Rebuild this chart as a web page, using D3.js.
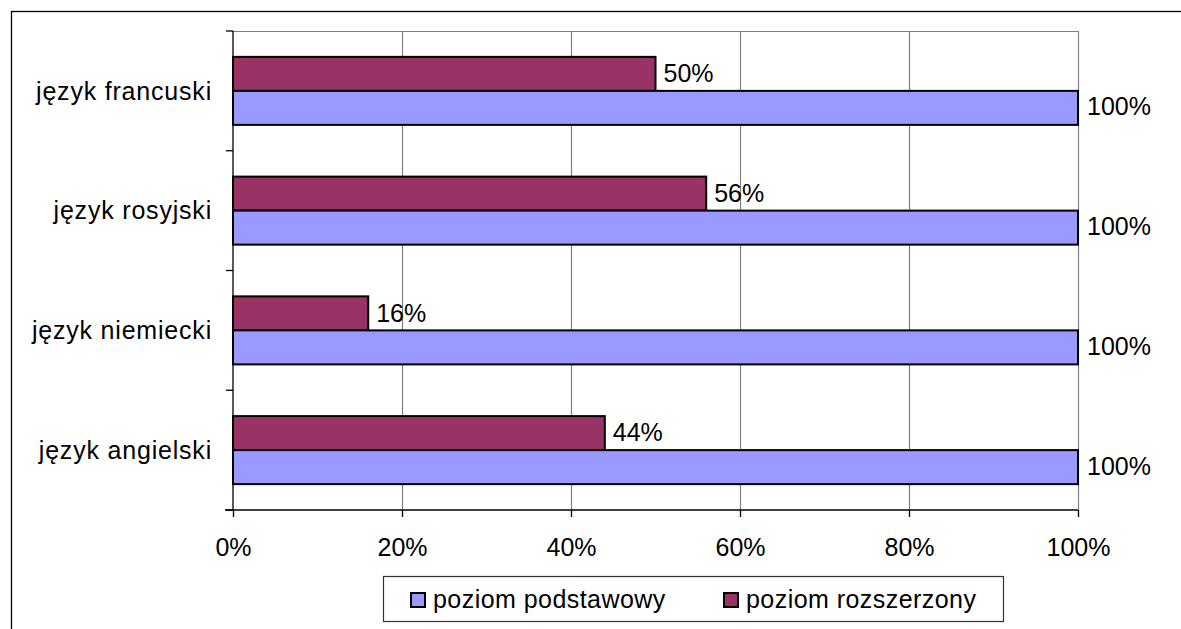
<!DOCTYPE html>
<html><head><meta charset="utf-8">
<script src="https://cdn.jsdelivr.net/npm/d3@7/dist/d3.min.js"></script>
<style>
html,body{margin:0;padding:0;background:#fff;}
svg{display:block;font-family:"Liberation Sans",Arial,sans-serif;}
</style></head>
<body>
<svg id="c" width="1181" height="629"></svg>
<script>
const categories = ["język francuski","język rosyjski","język niemiecki","język angielski"];
const seriesNames = ["poziom podstawowy","poziom rozszerzony"];
const podstawowy = [100,100,100,100];
const rozszerzony = [50,56,16,44];
const xTicks = [0,20,40,60,80,100];
const colors = ["#9999FF","#993366"];

const svg = d3.select("#c");
const fs = 25;

// outer frame (left + top visible)
svg.append("rect").attr("x",11.5).attr("y",11.5).attr("width",1300).attr("height",700)
  .attr("fill","none").attr("stroke","#000").attr("stroke-width",1.3);

const L=233, R=1078, T=31, B=510;
const x = d3.scaleLinear().domain([0,100]).range([L,R]);
const y = d3.scaleBand().domain(categories).range([T,B]).paddingInner(0.432).paddingOuter(0.216);

// gridlines
svg.append("g").selectAll("line").data(xTicks.slice(1)).join("line")
  .attr("x1",d=>x(d)+0.5).attr("x2",d=>x(d)+0.5).attr("y1",T).attr("y2",B)
  .attr("stroke","#808080").attr("stroke-width",1.2);
// plot top border
svg.append("line").attr("x1",L).attr("x2",R).attr("y1",T+0.5).attr("y2",T+0.5)
  .attr("stroke","#808080").attr("stroke-width",1.2);

// bars
const bh = y.bandwidth()/2;
const gBars = svg.append("g");
gBars.selectAll("rect.r").data(categories).join("rect").attr("class","r")
  .attr("x",x(0)).attr("y",d=>y(d)).attr("width",(d,i)=>x(rozszerzony[i])-x(0)).attr("height",bh)
  .attr("fill",colors[1]).attr("stroke","#000").attr("stroke-width",2);
gBars.selectAll("rect.b").data(categories).join("rect").attr("class","b")
  .attr("x",x(0)).attr("y",d=>y(d)+bh).attr("width",(d,i)=>x(podstawowy[i])-x(0)).attr("height",bh)
  .attr("fill",colors[0]).attr("stroke","#000").attr("stroke-width",2);

// value labels
const gLab = svg.append("g").attr("font-size",fs).attr("fill","#000");
gLab.selectAll("text.r").data(categories).join("text").attr("class","r")
  .attr("x",(d,i)=>x(rozszerzony[i])+8).attr("y",d=>y(d)+bh/2).attr("dy","0.33em")
  .text((d,i)=>rozszerzony[i]+"%");
gLab.selectAll("text.b").data(categories).join("text").attr("class","b")
  .attr("x",(d,i)=>x(podstawowy[i])+9).attr("y",d=>y(d)+bh*1.5).attr("dy","0.30em")
  .text((d,i)=>podstawowy[i]+"%");

// y axis
const yAxisG = svg.append("g");
yAxisG.append("line").attr("x1",L).attr("x2",L).attr("y1",T).attr("y2",B).attr("stroke","#000").attr("stroke-width",1.3);
const bounds = categories.map(c=>y(c)-y.step()*0.216).concat([B]);
yAxisG.selectAll("line.t").data(bounds).join("line").attr("class","t")
  .attr("x1",L-7).attr("x2",L).attr("y1",d=>d).attr("y2",d=>d).attr("stroke","#000").attr("stroke-width",1.3);
yAxisG.selectAll("text").data(categories).join("text")
  .attr("x",212).attr("y",d=>y(d)+y.bandwidth()/2).attr("dy","0.35em").attr("text-anchor","end")
  .attr("font-size",fs).attr("letter-spacing","0.8px").text(d=>d);

// x axis
const xAxis = d3.axisBottom(x).tickValues(xTicks).tickFormat(d=>d+"%").tickSize(7).tickPadding(21);
const xg = svg.append("g").attr("transform",`translate(0,${B})`).call(xAxis);
xg.select(".domain").remove();
xg.append("line").attr("x1",L-8).attr("x2",R).attr("y1",0).attr("y2",0).attr("stroke","#000").attr("stroke-width",1.3);
xg.selectAll(".tick line").attr("stroke","#000").attr("stroke-width",1.3);
xg.selectAll(".tick text").attr("font-size",fs).attr("font-family","Liberation Sans, Arial, sans-serif").attr("fill","#000");

// legend
const lg = svg.append("g");
lg.append("rect").attr("x",383.5).attr("y",576.5).attr("width",620).attr("height",45)
  .attr("fill","#fff").attr("stroke","#333").attr("stroke-width",1.2);
const legX = [410,723];
seriesNames.forEach((s,i)=>{
  lg.append("rect").attr("x",legX[i]+1).attr("y",593).attr("width",14).attr("height",14)
    .attr("fill",colors[i]).attr("stroke","#000").attr("stroke-width",2);
  lg.append("text").attr("x",legX[i]+23).attr("y",599).attr("dy","0.35em").attr("font-size",fs)
    .attr("letter-spacing","0.45px").text(s);
});
</script>
</body></html>
